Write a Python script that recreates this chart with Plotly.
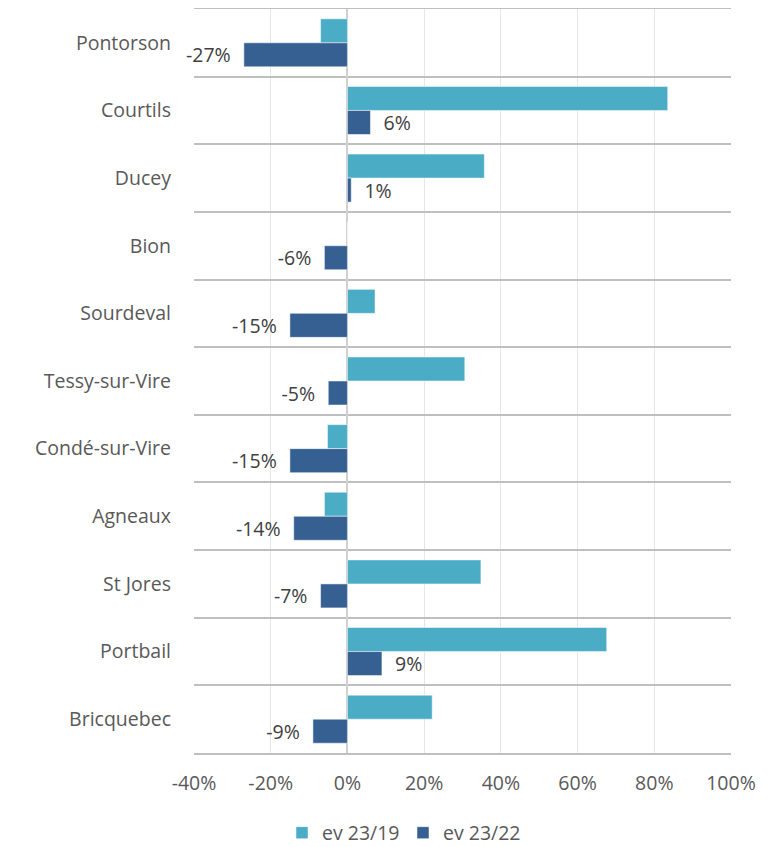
import plotly.graph_objects as go

categories = ["Pontorson", "Courtils", "Ducey", "Bion", "Sourdeval", "Tessy-sur-Vire",
              "Condé-sur-Vire", "Agneaux", "St Jores", "Portbail", "Bricquebec"]
ev_23_19 = [-0.07, 0.835, 0.357, 0.0, 0.072, 0.306, -0.052, -0.06, 0.348, 0.676, 0.221]
ev_23_22 = [-0.27, 0.06, 0.01, -0.06, -0.15, -0.05, -0.15, -0.14, -0.07, 0.09, -0.09]
x_ticks = [-0.4, -0.2, 0, 0.2, 0.4, 0.6, 0.8, 1.0]
x_tick_labels = ["-40%", "-20%", "0%", "20%", "40%", "60%", "80%", "100%"]

font_family = "'Open Sans', sans-serif"

fig = go.Figure()
fig.add_trace(go.Bar(
    y=categories, x=ev_23_19, orientation="h", name="ev 23/19",
    marker=dict(color="#4BACC6", line=dict(color="#FFFFFF", width=0.5)),
))
fig.add_trace(go.Bar(
    y=categories, x=ev_23_22, orientation="h", name="ev 23/22",
    marker=dict(color="#366092", line=dict(color="#FFFFFF", width=0.5)),
    text=["  " + f"{round(v*100):.0f}%" + "  " for v in ev_23_22],
    textposition="outside", cliponaxis=False, constraintext="none",
    textfont=dict(size=19.5, color="#404040", family=font_family),
))

fig.update_layout(
    width=773, height=847,
    margin=dict(l=186, r=50, t=1, b=102, autoexpand=False),
    paper_bgcolor="white", plot_bgcolor="white",
    barmode="group", bargap=0.29, bargroupgap=0,
    font=dict(family=font_family, size=19.5, color="#595959"),
    xaxis=dict(
        range=[-0.4, 1.0], tickvals=x_ticks, ticktext=x_tick_labels,
        showgrid=True, gridcolor="#E6E6E6", gridwidth=1,
        zeroline=True, zerolinecolor="#D0D0D0", zerolinewidth=1.5,
        showline=True, mirror=True, linecolor="#BFBFBF", linewidth=1.5,
        ticks="", ticklen=0, ticklabelstandoff=12,
        tickfont=dict(size=19.5, color="#595959"),
    ),
    yaxis=dict(
        type="category", autorange="reversed", tickson="boundaries",
        showgrid=True, gridcolor="#BFBFBF", gridwidth=1.5,
        showline=False, ticks="", ticklen=0, ticklabelstandoff=22,
        tickfont=dict(size=19.5, color="#595959"),
    ),
    legend=dict(
        orientation="h", xref="container", x=0.511, xanchor="center",
        yref="container", y=0.026, yanchor="middle",
        font=dict(size=19.5, color="#595959"), traceorder="normal",
        itemwidth=30, entrywidth=76,
    ),
)

fig.write_html("out.html")
